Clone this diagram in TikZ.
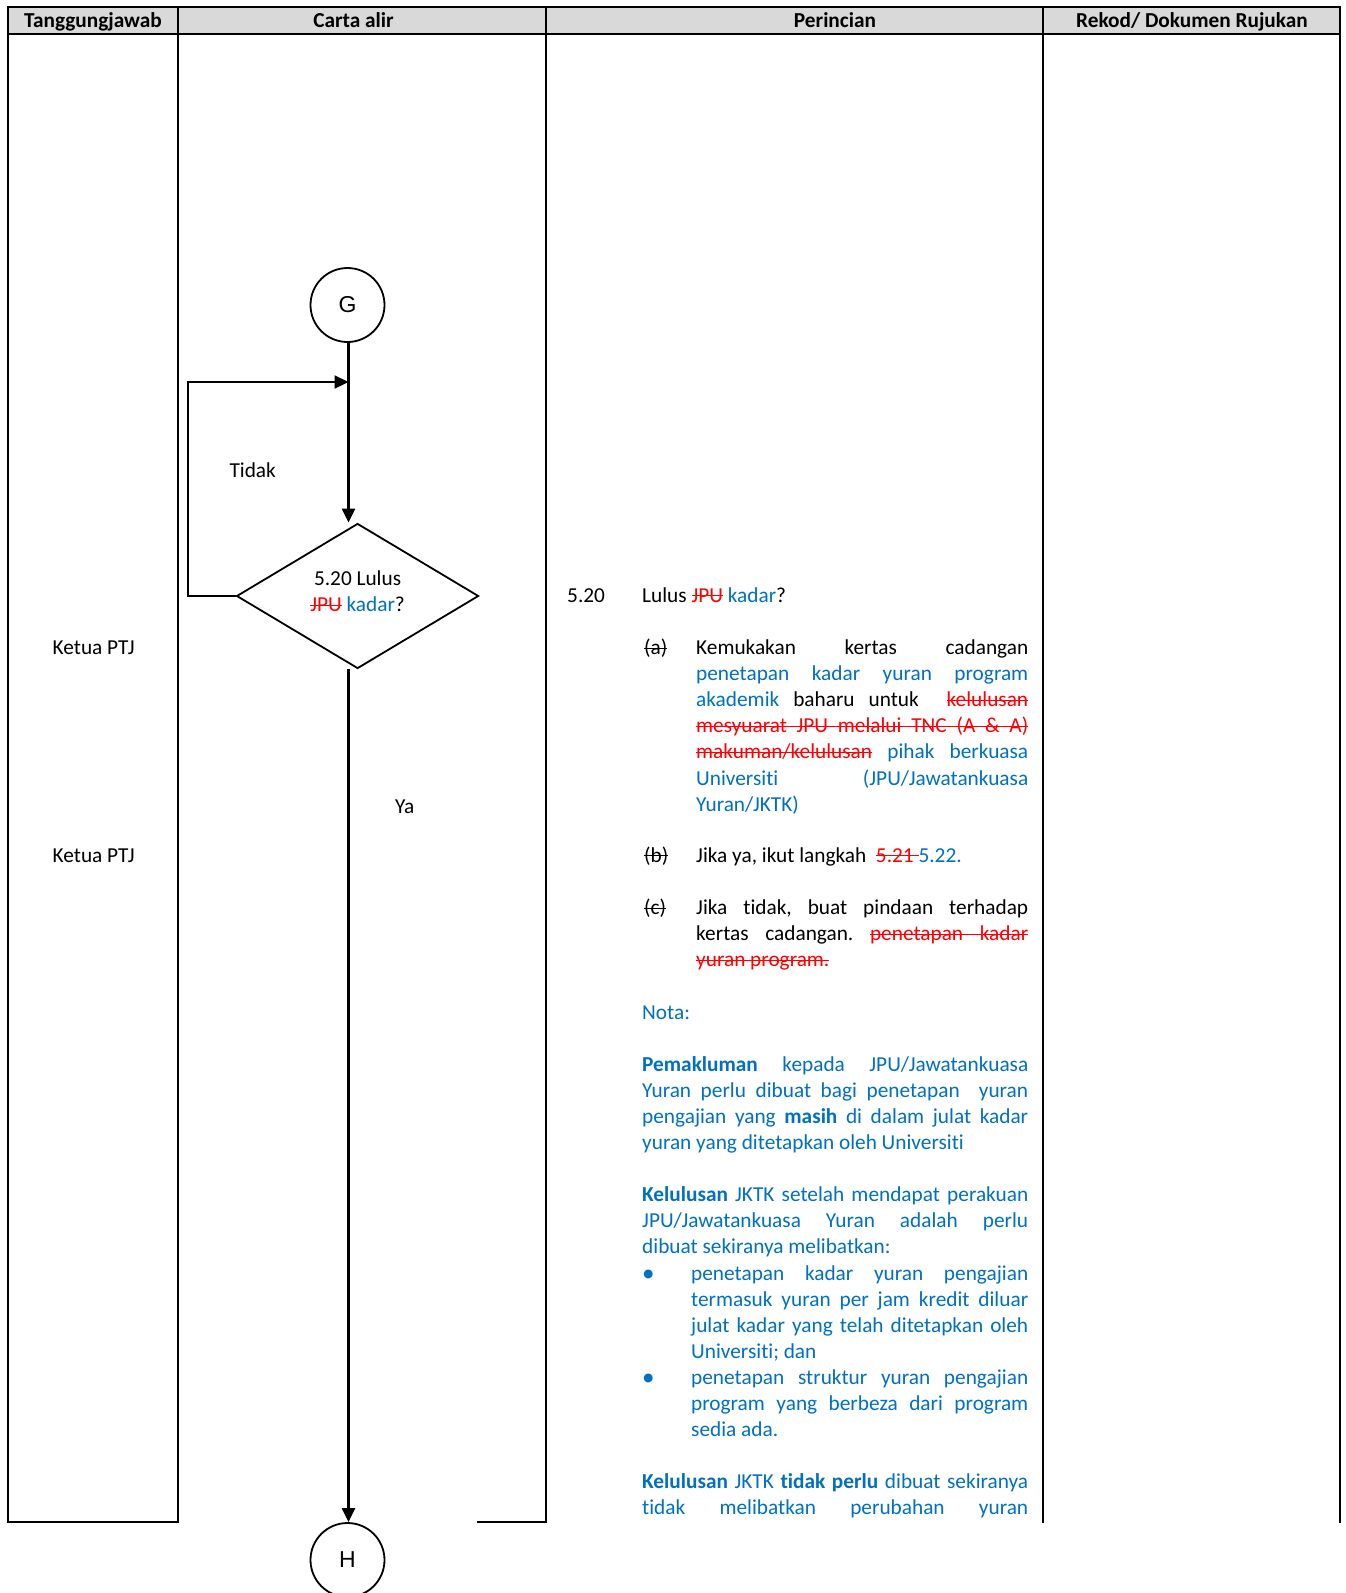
\documentclass[tikz,border=0pt]{standalone}
\usepackage{fontspec}
\setmainfont[Ligatures=NoCommon]{Carlito}
\newfontfamily\connfont{Liberation Sans}
\usetikzlibrary{arrows.meta,shapes.geometric}
\definecolor{hdrgray}{HTML}{D9D9D9}
\definecolor{wordblue}{HTML}{0070C0}
\definecolor{delred}{HTML}{FF0000}
% strike-through: each word gets a rule over it, spaces become ruled glue
\newsavebox\wordbox
\newcommand{\sw}[1]{\sbox\wordbox{#1}\rlap{\rule[5.6pt]{\wd\wordbox}{1.4pt}}\usebox\wordbox}
\newcommand{\sspace}{\leaders\hrule height 7pt depth -5.6pt\hskip\fontdimen2\font plus\fontdimen3\font minus\fontdimen4\font\relax}
\def\swords#1 #2\swend{\sw{#1}\ifx\relax#2\relax\else\sspace\swords#2\swend\fi}
\newcommand{\strikeout}[1]{\swords#1 \swend}
% revision marks: deleted text (red, struck through) and inserted text (blue)
\newcommand{\strk}[1]{{\color{delred}\strikeout{#1}}}
\newcommand{\blu}[1]{{\color{wordblue}#1}}
% one justified line / one left-aligned line of a text block
\newcommand{\jl}[1]{\hbox to\hsize{#1}}
\newcommand{\lft}[1]{\hbox to\hsize{#1\hfil}}
% bulleted lines: a 49pt marker column, the text fills the rest
\newcommand{\bj}[2]{\hbox to\hsize{\hbox to 49pt{#1\hss}#2}}
\newcommand{\bl}[2]{\hbox to\hsize{\hbox to 49pt{#1\hss}#2\hfil}}
\newcommand{\bul}{\raisebox{-1pt}{\fontsize{25}{26}\selectfont\textbullet}}
% a block of stacked lines whose baseline is that of its first line
\newcommand{\lineblock}[2]{\vtop{\hsize=#1\relax #2}}
\frenchspacing
\begin{document}
\begin{tikzpicture}[x=1pt,y=-1pt,
  txt/.style={inner sep=0pt,font=\fontsize{21.3}{26.1}\selectfont},
  lbl/.style={txt,anchor=base west},
  hdr/.style={inner sep=0pt,anchor=base,font=\fontsize{21.3}{26.1}\selectfont\bfseries},
  rule/.style={line width=2pt,line cap=rect},
  flow/.style={line width=2.2pt},
  arr/.style={-{Triangle[length=14pt,width=13pt]}},
  conn/.style={circle,draw,line width=1.8pt,minimum size=74pt,inner sep=0pt,
    font=\connfont\fontsize{23}{23}\selectfont},
  decision/.style={diamond,draw,line width=1.8pt,minimum width=242pt,
    minimum height=145pt,inner sep=0pt,align=center,text depth=9pt,
    font=\fontsize{21.3}{26.1}\selectfont}
]
\useasboundingbox (0,0) rectangle (1345,1593);
\fill[white] (0,0) rectangle (1345,1593);

% table frame and header row
\fill[hdrgray] (8,7) rectangle (1340,33.5);
\draw[rule] (8,7) -- (1340,7) (8,33.5) -- (1340,33.5);
\foreach \cx in {8,178,545.5,1043,1340} \draw[rule] (\cx,7) -- (\cx,1522);
\draw[rule] (8,1522) -- (178,1522);
\draw[rule] (478,1522) -- (545.5,1522);
\node[hdr] (hresp) at (93,27) {Tanggungjawab};
\node[hdr] (hflow) at (353.5,27) {Carta alir};
\node[hdr] (hdet) at (835,27) {Perincian};
\node[hdr] (hrec) at (1192,27) {Rekod/ Dokumen Rujukan};

% flow chart
\node[conn] (G) at (347.5,305) {G};
\node[decision] (D) at (357.6,596) {5.20 Lulus\\\strk{JPU} \blu{kadar}?};
\node[conn] (H) at (347.5,1560) {H};
\coordinate (J) at (348.5,382);
\draw[flow,arr] (G.south -| J) -- (J |- D.north);
\draw[flow,arr] (D.west) -- ++(-48,0) |- (J);
\draw[flow,arr] (J |- D.south) -- (H.north -| J);
\node[lbl] (tidak) at (229.3,477) {Tidak};
\node[lbl] (ya) at (395,813.5) {Ya};

% responsibility column
\node[lbl] (resp1) at (52.5,654.5) {Ketua PTJ};
\node[lbl] (resp2) at (52.5,862) {Ketua PTJ};

% details column
\node[lbl] (num) at (567,602) {5.20};
\node[lbl] (title) at (642,602) {Lulus \strk{JPU} \blu{kadar}?};

\node[lbl] (ma) at (644,654.5) {\strikeout{(a)}};
\node[lbl] (pa) at (696,654.5) {\lineblock{332pt}{%
  \jl{Kemukakan kertas cadangan}%
  \jl{\blu{penetapan kadar yuran program}}%
  \jl{\blu{akademik} baharu untuk\ \ \strk{kelulusan}}%
  \jl{\strk{mesyuarat JPU melalui TNC (A \& A)}}%
  \jl{\strk{makuman/kelulusan} \blu{pihak berkuasa}}%
  \jl{\blu{Universiti (JPU/Jawatankuasa}}%
  \lft{\blu{Yuran/JKTK)}}}};

\node[lbl] (mb) at (644,862) {\strikeout{(b)}};
\node[lbl] (pb) at (696,862) {Jika ya, ikut langkah\ \ \strk{5.21}{\color{delred}\sspace}\blu{5.22.}};

\node[lbl] (mc) at (644,914.5) {\strikeout{(c)}};
\node[lbl] (pc) at (696,914.5) {\lineblock{332pt}{%
  \jl{Jika tidak, buat pindaan terhadap}%
  \jl{kertas cadangan. \strk{penetapan kadar}}%
  \lft{\strk{yuran program.}}}};

\node[lbl,text=wordblue] (nota) at (642,1019) {\lineblock{386pt}{%
  \lft{Nota:}%
  \hbox{}%
  \jl{\textbf{Pemakluman} kepada JPU/Jawatankuasa}%
  \jl{Yuran perlu dibuat bagi penetapan\ \ yuran}%
  \jl{pengajian yang \textbf{masih} di dalam julat kadar}%
  \lft{yuran yang ditetapkan oleh Universiti}%
  \hbox{}%
  \jl{\textbf{Kelulusan} JKTK setelah mendapat perakuan}%
  \jl{JPU/Jawatankuasa Yuran adalah perlu}%
  \lft{dibuat sekiranya melibatkan:}%
  \bj{\bul}{penetapan kadar yuran pengajian}%
  \bj{}{termasuk yuran per jam kredit diluar}%
  \bj{}{julat kadar yang telah ditetapkan oleh}%
  \bl{}{Universiti; dan}%
  \bj{\bul}{penetapan struktur yuran pengajian}%
  \bj{}{program yang berbeza dari program}%
  \bl{}{sedia ada.}%
  \hbox{}%
  \jl{\textbf{Kelulusan} JKTK \textbf{tidak perlu} dibuat sekiranya}%
  \jl{tidak melibatkan perubahan yuran}}};
\end{tikzpicture}
\end{document}
